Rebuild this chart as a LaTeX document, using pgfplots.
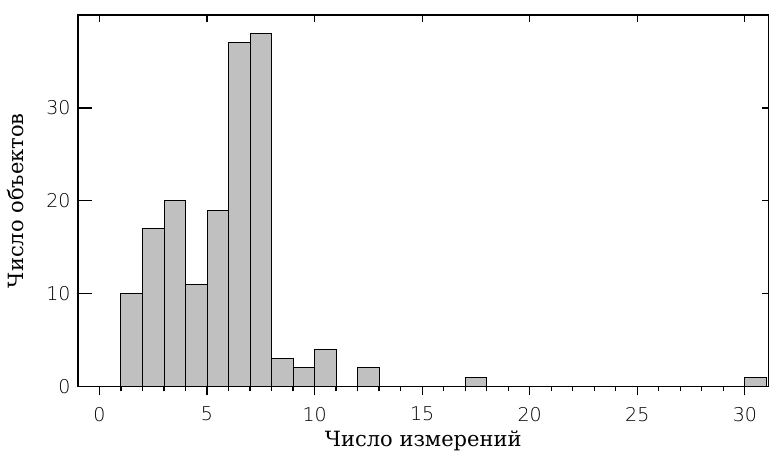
\documentclass[border=0pt]{standalone}
\usepackage{fontspec}
\setmainfont{DejaVu Sans ExtraLight}
\newfontfamily\labfont{DejaVu Serif}
\usepackage{pgfplots}
\pgfplotsset{compat=1.18}
\definecolor{barfill}{RGB}{192,192,192}
\pgfplotsset{
  hbase/.style={
    width=691bp, height=371.7bp, scale only axis,
    xmin=-1, xmax=31.1, ymin=0, ymax=40,
    axis line style={line width=1.4bp},
    every tick/.style={black, line width=1.3bp},
    /pgf/number format/assume math mode=true,
    ticklabel style={font=\fontsize{19bp}{19bp}\selectfont},
  }
}
\begin{document}
\begin{tikzpicture}
\useasboundingbox (-78bp,-66.3bp) rectangle (691.5bp,386.7bp);
% bars and bottom ticks
\begin{axis}[hbase,
  xtick={0,5,...,30}, minor x tick num=4,
  xtick pos=left, xtick align=outside,
  major tick length=9bp, minor tick length=5bp,
  ytick=\empty,
  xticklabel style={yshift=-8bp},
  xlabel={\labfont Число измерений},
  xlabel style={font=\fontsize{21bp}{21bp}\selectfont,
    at={(axis description cs:0.5,0)}, anchor=center, yshift=-54bp},
]
\addplot[ybar, bar width=1, bar shift=0, fill=barfill, draw=black, line width=1bp]
  coordinates {(1.5,10)(2.5,17)(3.5,20)(4.5,11)(5.5,19)(6.5,37)(7.5,38)
               (8.5,3)(9.5,2)(10.5,4)(12.5,2)(17.5,1)(30.5,1)};
\end{axis}
% left ticks and y label
\begin{axis}[hbase,
  xtick=\empty,
  ytick={0,10,20,30}, ytick pos=left, ytick align=inside,
  major tick length=14bp,
  yticklabel style={xshift=-4bp},
  ylabel={\labfont Число объектов},
  ylabel style={font=\fontsize{21bp}{21bp}\selectfont,
    at={(axis description cs:0,0.5)}, anchor=center, yshift=62bp},
]
\end{axis}
% top and right ticks
\begin{axis}[hbase,
  xtick={0,5,...,30}, xtick pos=right, xticklabels={},
  ytick={0,10,20,30}, ytick pos=right, yticklabels={},
  tick align=inside, major tick length=7bp,
]
\end{axis}
\end{tikzpicture}
\end{document}
